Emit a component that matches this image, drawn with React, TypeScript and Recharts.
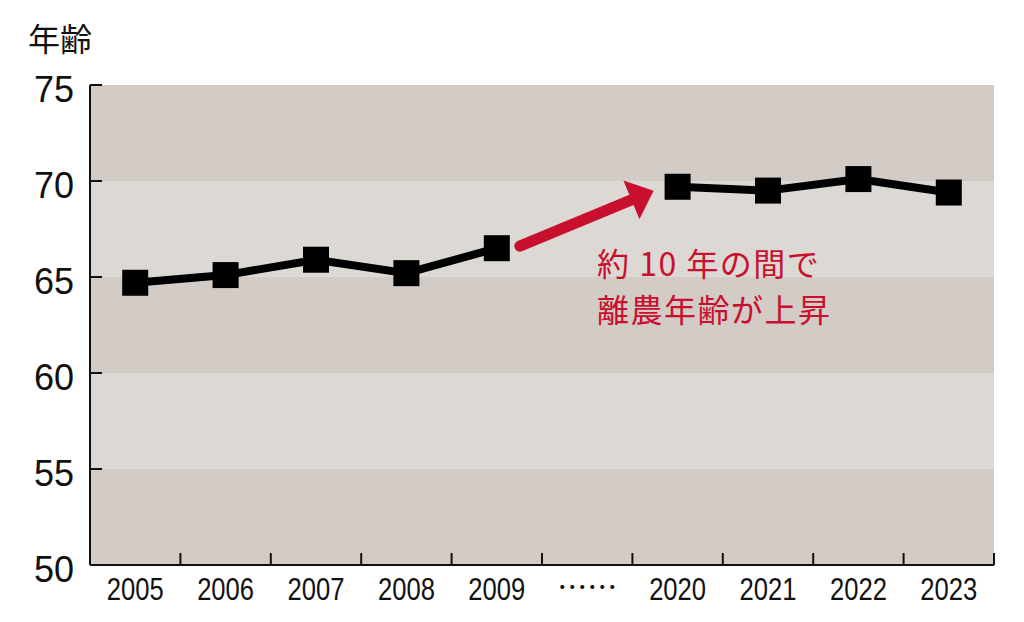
import React from 'react';
import { LineChart, Line, XAxis, YAxis, ReferenceArea, ReferenceLine } from 'recharts';

// ---- data ----
const categories = ['2005', '2006', '2007', '2008', '2009', '……', '2020', '2021', '2022', '2023'];
const ages: (number | null)[] = [64.7, 65.1, 65.9, 65.2, 66.5, null, 69.7, 69.5, 70.1, 69.4];
const yTicks = [50, 55, 60, 65, 70, 75];
const bandBounds: [number, number][] = [
  [50, 55],
  [55, 60],
  [60, 65],
  [65, 70],
  [70, 75],
];
const yTitle = '年齢';
const noteLines = ['約 10 年の間で', '離農年齢が上昇'];
const arrowFrom = '2009';
const arrowTo = '2020';

const data = categories.map((c, i) => ({ year: c, age: ages[i] }));

// ---- styles ----
const DARK = '#d3cbc6';
const LIGHT = '#dcd8d4';
const RED = '#c8102e';
const INK = '#111111';
const LATIN = "'Liberation Sans', Arial, Helvetica, sans-serif";
const CJK = "'Noto Sans CJK JP', 'Noto Sans CJK SC', sans-serif";

const XTick = (props: any) => {
  const { x, y, payload } = props;
  const half = typeof payload?.offset === 'number' && payload.offset > 10 ? payload.offset : 45.2;
  const isGap = payload.value === '……';
  return (
    <g>
      <line x1={x + half} x2={x + half} y1={y} y2={y - 12} stroke={INK} strokeWidth={2} />
      <g transform={`translate(${x},${y + 35}) scale(${isGap ? 1 : 0.8},1)`}>
        <text
          x={0}
          y={isGap ? -2 : 0}
          textAnchor="middle"
          fontSize={isGap ? 30 : 32}
          fontFamily={isGap ? CJK : LATIN}
          fill={INK}
        >
          {payload.value}
        </text>
      </g>
    </g>
  );
};

const YTick = (props: any) => {
  const { x, y, payload } = props;
  return (
    <g>
      <line x1={x} x2={x + 12} y1={y} y2={y} stroke={INK} strokeWidth={2} />
      <text x={x - 16} y={y + 17} textAnchor="end" fontSize={36} fontFamily={LATIN} fill={INK}>
        {payload.value}
      </text>
    </g>
  );
};

const SquareDot = (props: any) => {
  const { cx, cy, value, index } = props;
  if (value == null || cx == null || cy == null) return <g key={`d${index}`} />;
  return <rect key={`d${index}`} x={cx - 13} y={cy - 13} width={26} height={26} fill="#000" />;
};

const ArrowShape = (props: any) => {
  const { x1, y1, x2, y2 } = props;
  if ([x1, y1, x2, y2].some((v) => typeof v !== 'number')) return <g />;
  const sx = x1 + 23;
  const sy = y1 - 2;
  const tx = x2 - 24;
  const ty = y2 + 4;
  const dx = tx - sx;
  const dy = ty - sy;
  const len = Math.hypot(dx, dy);
  const ux = dx / len;
  const uy = dy / len;
  const nx = -uy;
  const ny = ux;
  const headLen = 24;
  const headHalf = 21;
  const bx = tx - ux * headLen;
  const by = ty - uy * headLen;
  return (
    <g>
      <line
        x1={sx}
        y1={sy}
        x2={bx + ux * 2}
        y2={by + uy * 2}
        stroke={RED}
        strokeWidth={11}
        strokeLinecap="round"
      />
      <polygon
        points={`${tx},${ty} ${bx + nx * headHalf},${by + ny * headHalf} ${bx - nx * headHalf},${by - ny * headHalf}`}
        fill={RED}
      />
    </g>
  );
};

export default function App() {
  return (
    <div style={{ position: 'absolute', left: 0, top: 0, width: 1024, height: 622, background: '#fff' }}>
      <LineChart
        width={1024}
        height={622}
        data={data}
        margin={{ top: 85, right: 30, bottom: 0, left: 0 }}
      >
        {bandBounds.map(([lo, hi], i) => (
          <ReferenceArea
            key={`band${i}`}
            y1={lo}
            y2={hi}
            fill={i % 2 === 0 ? DARK : LIGHT}
            fillOpacity={1}
            stroke="none"
            ifOverflow="visible"
          />
        ))}
        <XAxis
          dataKey="year"
          type="category"
          scale="band"
          height={57}
          interval={0}
          tickSize={0}
          tickMargin={0}
          tickLine={false}
          axisLine={{ stroke: INK, strokeWidth: 2 }}
          tick={<XTick />}
        />
        <YAxis
          type="number"
          domain={[50, 75]}
          ticks={yTicks}
          interval={0}
          width={90}
          tickSize={0}
          tickMargin={0}
          tickLine={false}
          axisLine={{ stroke: INK, strokeWidth: 2 }}
          tick={<YTick />}
        />
        <ReferenceLine
          segment={[
            { x: arrowFrom, y: ages[categories.indexOf(arrowFrom)] as number },
            { x: arrowTo, y: ages[categories.indexOf(arrowTo)] as number },
          ]}
          stroke={RED}
          ifOverflow="visible"
          shape={<ArrowShape />}
        />
        <Line
          type="linear"
          dataKey="age"
          stroke="#000"
          strokeWidth={8}
          connectNulls={false}
          dot={<SquareDot />}
          activeDot={false}
          isAnimationActive={false}
        />
      </LineChart>
      <svg
        width={1024}
        height={622}
        style={{ position: 'absolute', left: 0, top: 0, pointerEvents: 'none' }}
      >
        <text x={28} y={51} fontSize={32} fontFamily={CJK} fill={INK}>
          {yTitle}
        </text>
        {noteLines.map((t, i) => (
          <text
            key={i}
            x={597}
            y={i === 0 ? 276 : 322}
            fontSize={32}
            fontFamily={CJK}
            letterSpacing={1.5}
            fill={RED}
          >
            {t}
          </text>
        ))}
      </svg>
    </div>
  );
}
